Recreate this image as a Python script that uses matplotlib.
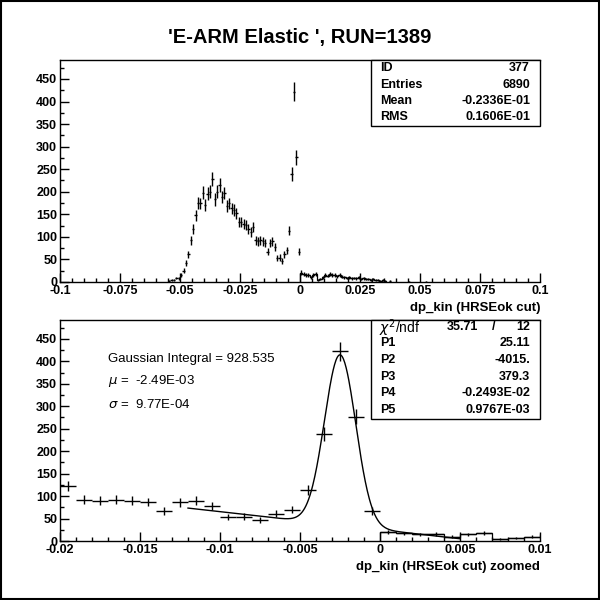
import matplotlib
matplotlib.use("Agg")
import matplotlib.pyplot as plt
import numpy as np
from matplotlib.patches import Rectangle
from matplotlib.ticker import MultipleLocator, FuncFormatter

plt.rcParams["font.family"] = ["Liberation Sans", "DejaVu Sans"]
plt.rcParams["axes.unicode_minus"] = False
plt.rcParams["mathtext.fontset"] = "dejavusans"

# ------------ Data (dp_kin histogram, 0.001 wide bins starting at -0.055) ------------
bin_start = -0.055
bin_width = 0.001
counts_rise = [2, 4, 5, 9, 8, 16, 25, 42, 61, 92, 118, 148, 176, 174, 198, 170, 196,
               200, 228, 183, 200, 215, 189, 197, 168, 174, 163, 160, 152, 133, 133,
               129, 126, 118, 111]
counts_peak = [122, 92, 90, 92, 90, 87, 67, 86, 90, 78, 53, 54, 46, 61, 70, 114, 239,
               422, 277, 67]
counts_tail = [21, 17, 15, 16, 10, 15, 18, 5, 7, 10,
               16, 14, 17, 15, 16, 13, 15, 12, 11, 9, 10, 8, 9, 8, 10, 7, 8, 6, 7, 5,
               6, 4, 5, 3, 4, 2,
               0, 2, 0, 0, 0, 0, 0, 0, 0, 1, 0, 0, 0, 0, 0, 0, 1]

# fit: P1 + P2*x + P3*gaus(P4, P5), drawn over the fit range
fit_params = [25.11, -4015.0, 379.3, -0.2493e-02, 0.9767e-03]
fit_range = (-0.012, 0.005)

top_stats = [("ID", "377"), ("Entries", "6890"), ("Mean", "-0.2336E-01"), ("RMS", "0.1606E-01")]
fit_stats = [("P1", "25.11"), ("P2", "-4015."), ("P3", "379.3"),
             ("P4", "-0.2493E-02"), ("P5", "0.9767E-03")]

counts = np.array(counts_rise + counts_peak + counts_tail, dtype=float)
edges = bin_start + bin_width * np.arange(len(counts) + 1)
centers = 0.5 * (edges[:-1] + edges[1:])
nz = counts > 0

# ------------ Plotting ------------
fig = plt.figure(figsize=(6, 6), dpi=100)
W = H = 600.0


def fx(px):
    return px / W


def fy(py):
    return 1 - py / H


def make_axes(top_px, bottom_px):
    ax = fig.add_axes([fx(60), fy(bottom_px), fx(540) - fx(60), fy(top_px) - fy(bottom_px)])
    ax.spines["right"].set_visible(False)
    for s in ax.spines.values():
        s.set_linewidth(1.0)
    ax.tick_params(which="both", direction="in", top=False, right=False, width=1)
    ax.tick_params(which="major", length=6.5, labelsize=9, pad=2)
    ax.tick_params(which="minor", length=3.2)
    ax.yaxis.set_major_locator(MultipleLocator(50))
    ax.yaxis.set_minor_locator(MultipleLocator(25))
    ax.set_ylim(0, 492)
    ax.xaxis.set_major_formatter(FuncFormatter(lambda v, p: "%g" % round(v, 4)))
    return ax


def draw_hist(ax, cap=0.0005):
    ax.errorbar(centers[nz], counts[nz], xerr=cap, yerr=np.sqrt(counts[nz]),
                fmt="none", ecolor="black", elinewidth=1.0, capsize=0)
    pos = (centers > 0) & (centers < 0.036)
    sel_edges = np.append(edges[:-1][pos], edges[1:][pos][-1])
    ax.stairs(counts[pos], sel_edges, color="black", lw=0.9, baseline=0)


# top panel
ax1 = make_axes(60, 282)
draw_hist(ax1)
ax1.set_xlim(-0.1, 0.1)
ax1.xaxis.set_major_locator(MultipleLocator(0.025))
ax1.xaxis.set_minor_locator(MultipleLocator(0.005))

# bottom panel
ax2 = make_axes(320, 541)
draw_hist(ax2)
xf = np.linspace(fit_range[0], fit_range[1], 400)
p1, p2, p3, p4, p5 = fit_params
ax2.plot(xf, p1 + p2 * xf + p3 * np.exp(-0.5 * ((xf - p4) / p5) ** 2), color="black", lw=1.0)
ax2.set_xlim(-0.02, 0.01)
ax2.xaxis.set_major_locator(MultipleLocator(0.005))
ax2.xaxis.set_minor_locator(MultipleLocator(0.001))

for ax in (ax1, ax2):
    for lab in ax.get_xticklabels() + ax.get_yticklabels():
        lab.set_fontweight("bold")

# title and axis labels
fig.text(0.5, fy(38), "'E-ARM Elastic ', RUN=1389", ha="center", va="center",
         fontsize=14.5, fontweight="bold")
fig.text(fx(540), fy(308), "dp_kin (HRSEok cut)", ha="right", va="center",
         fontsize=9.5, fontweight="bold")
fig.text(fx(540), fy(567), "dp_kin (HRSEok cut) zoomed", ha="right", va="center",
         fontsize=9.5, fontweight="bold")

# stats box, top
fig.add_artist(Rectangle((fx(371), fy(126)), fx(540) - fx(371), fy(60) - fy(126),
                         transform=fig.transFigure, fill=True, facecolor="white",
                         edgecolor="black", lw=1.0))
for i, (k, v) in enumerate(top_stats):
    y = fy(68 + 16.5 * i)
    fig.text(fx(380), y, k, ha="left", va="center", fontsize=9, fontweight="bold")
    fig.text(fx(530), y, v, ha="right", va="center", fontsize=9, fontweight="bold")

# stats box, fit
fig.add_artist(Rectangle((fx(371), fy(419)), fx(540) - fx(371), fy(320) - fy(419),
                         transform=fig.transFigure, fill=True, facecolor="white",
                         edgecolor="black", lw=1.0))
fig.text(fx(379), fy(328), r"$\chi^2$/ndf", ha="left", va="center", fontsize=10)
fig.text(fx(478), fy(327), "35.71", ha="right", va="center", fontsize=9, fontweight="bold")
fig.text(fx(494), fy(327), "/", ha="center", va="center", fontsize=9, fontweight="bold")
fig.text(fx(530), fy(327), "12", ha="right", va="center", fontsize=9, fontweight="bold")
for i, (k, v) in enumerate(fit_stats):
    y = fy(343.5 + 16.6 * i)
    fig.text(fx(380), y, k, ha="left", va="center", fontsize=9, fontweight="bold")
    fig.text(fx(530), y, v, ha="right", va="center", fontsize=9, fontweight="bold")

# gaussian annotation
fig.text(fx(108), fy(359), "Gaussian Integral = 928.535", ha="left", va="center", fontsize=9.5)
fig.text(fx(108), fy(381), r"$\mu$ =  -2.49E-03", ha="left", va="center", fontsize=9.5)
fig.text(fx(108), fy(404), r"$\sigma$ =  9.77E-04", ha="left", va="center", fontsize=9.5)

# frame around the canvas
fig.add_artist(Rectangle((0.002, 0.002), 0.996, 0.996, transform=fig.transFigure,
                         fill=False, edgecolor="black", lw=1.5))

fig.savefig("out.png", dpi=100)
